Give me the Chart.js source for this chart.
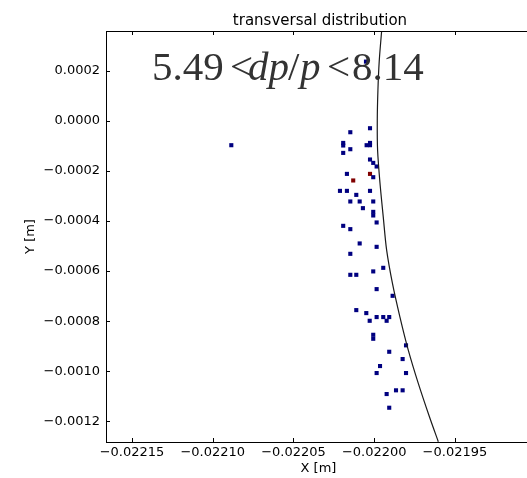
<!DOCTYPE html>
<html>
<head>
<meta charset="utf-8">
<script src="https://cdn.jsdelivr.net/npm/chart.js@4.4.1/dist/chart.umd.min.js"></script>
<style>
    body { margin: 0; background: #fff; }
    #wrap { width: 527px; height: 478px; overflow: hidden; }
</style>
</head>
<body>
<div id="wrap"><canvas id="dist-chart" width="540" height="478"></canvas></div>
<script>
// particles (navy = low, dark red = high)
const blueX = [-0.0220885, -0.0220051, -0.0220026, -0.0220148, -0.0220192, -0.0220192, -0.0220047, -0.0220026,
    -0.0220026, -0.0220148, -0.0220192, -0.0220026, -0.0220006, -0.0219985, -0.0220169, -0.0220006,
    -0.0220212, -0.0220169, -0.0220026, -0.0220111, -0.0220148, -0.0220090, -0.0220006, -0.0220070,
    -0.0220006, -0.0220006, -0.0219985, -0.0220192, -0.0220148, -0.0220090, -0.0219985, -0.0220148,
    -0.0219944, -0.0220006, -0.0220148, -0.0220111, -0.0219985, -0.0219886, -0.0220111, -0.0220049,
    -0.0219985, -0.0219944, -0.0219907, -0.0220028, -0.0219923, -0.0220006, -0.0220006, -0.0219803,
    -0.0219907, -0.0219824, -0.0219964, -0.0219985, -0.0219803, -0.0219865, -0.0219824, -0.0219923,
    -0.0219907];
const blueY = [-0.0000977, 0.0002360, -0.0000299, -0.0000459, -0.0000886, -0.0000989, -0.0000977, -0.0000886,
    -0.0000977, -0.0001137, -0.0001284, -0.0001548, -0.0001683, -0.0001827, -0.0002122, -0.0002254,
    -0.0002800, -0.0002800, -0.0002800, -0.0002960, -0.0003223, -0.0003223, -0.0003223, -0.0003490,
    -0.0003638, -0.0003782, -0.0004061, -0.0004196, -0.0004328, -0.0004899, -0.0005034, -0.0005313,
    -0.0005872, -0.0006015, -0.0006151, -0.0006151, -0.0006722, -0.0006989, -0.0007560, -0.0007679,
    -0.0007838, -0.0007838, -0.0007838, -0.0007986, -0.0007986, -0.0008545, -0.0008704, -0.0008967,
    -0.0009223, -0.0009514, -0.0009793, -0.0010072, -0.0010072, -0.0010762, -0.0010762, -0.0010910,
    -0.0011457];
const redX = [-0.0220026, -0.0220130];
const redY = [-0.0002122, -0.0002385];

// acceptance boundary
const curveX = [-0.0219954, -0.0219969, -0.0219977, -0.0219981, -0.0219979, -0.0219964, -0.0219944,
    -0.0219923, -0.0219887, -0.0219841, -0.0219789, -0.0219727, -0.0219658, -0.0219603];
const curveY = [0.000358, 0.000237, 0.000122, 0.0, -0.0001177, -0.0002505, -0.0003837,
    -0.0005166, -0.0006494, -0.0007826, -0.0009155, -0.0010483, -0.0011816, -0.0012813];

const xTicks = [-0.02215, -0.02210, -0.02205, -0.02200, -0.02195];
const yTicks = [0.0002, 0.0000, -0.0002, -0.0004, -0.0006, -0.0008, -0.0010, -0.0012];

const tickFont = { family: 'DejaVu Sans', size: 13 };

function fmt(v, digits) {
    const s = Math.abs(v).toFixed(digits);
    return (v < -1e-12 ? '\u2212' : '') + s;
}

// matplotlib style frame: top line plus inward ticks on all sides
const framePlugin = {
    id: 'frame',
    afterDraw(chart) {
        const ctx = chart.ctx;
        const a = chart.chartArea;
        const xs = chart.scales.x;
        const ys = chart.scales.y;
        ctx.save();
        ctx.strokeStyle = '#000';
        ctx.lineWidth = 1;
        ctx.beginPath();
        ctx.moveTo(a.left, a.top + 0.5);
        ctx.lineTo(a.right, a.top + 0.5);
        xTicks.forEach(v => {
            const px = Math.round(xs.getPixelForValue(v)) + 0.5;
            ctx.moveTo(px, a.bottom);
            ctx.lineTo(px, a.bottom - 4);
            ctx.moveTo(px, a.top);
            ctx.lineTo(px, a.top + 4);
        });
        yTicks.forEach(v => {
            const py = Math.round(ys.getPixelForValue(v)) + 0.5;
            ctx.moveTo(a.left, py);
            ctx.lineTo(a.left + 4, py);
            ctx.moveTo(a.right, py);
            ctx.lineTo(a.right - 4, py);
        });
        ctx.stroke();

        // title
        ctx.fillStyle = '#000';
        ctx.font = '15px "DejaVu Sans"';
        ctx.textAlign = 'center';
        ctx.textBaseline = 'alphabetic';
        ctx.fillText('transversal distribution', 320, 25);

        // mathtext label
        const parts = [
            ['5.49', 'normal', 152],
            ['<', 'normal', 230],
            ['dp', 'italic', 248],
            ['/', 'normal', 288],
            ['p', 'italic', 300],
            ['<', 'normal', 327],
            ['8.14', 'normal', 352]
        ];
        ctx.fillStyle = '#333';
        ctx.textAlign = 'left';
        parts.forEach(p => {
            ctx.font = p[1] + ' 41px "Liberation Serif"';
            ctx.fillText(p[0], p[2], 80);
        });
        ctx.restore();
    }
};

const ctx = document.getElementById('dist-chart').getContext('2d');
const chart = new Chart(ctx, {
    type: 'scatter',
    data: {
        datasets: [
            {
                label: 'boundary',
                data: curveX.map((x, i) => ({ x: x, y: curveY[i] })),
                showLine: true,
                borderColor: '#1a1a1a',
                borderWidth: 1.2,
                pointRadius: 0,
                tension: 0.3
            },
            {
                label: 'low',
                data: blueX.map((x, i) => ({ x: x, y: blueY[i] })),
                pointStyle: 'rect',
                pointRadius: 2.9,
                backgroundColor: '#000080',
                borderWidth: 0
            },
            {
                label: 'high',
                data: redX.map((x, i) => ({ x: x, y: redY[i] })),
                pointStyle: 'rect',
                pointRadius: 2.9,
                backgroundColor: '#800000',
                borderWidth: 0
            }
        ]
    },
    options: {
        responsive: false,
        animation: false,
        layout: { padding: { top: 31, right: 9, left: 0, bottom: 0 } },
        plugins: {
            legend: { display: false },
            tooltip: { enabled: false },
            title: { display: false }
        },
        scales: {
            x: {
                type: 'linear',
                min: -0.0221661,
                max: -0.0219029,
                afterBuildTicks: scale => { scale.ticks = xTicks.map(v => ({ value: v })); },
                afterFit: scale => { scale.height = 36; },
                grid: { display: true, drawOnChartArea: false, drawTicks: false },
                border: { display: true, color: '#000', width: 1 },
                ticks: {
                    color: '#000',
                    font: tickFont,
                    padding: 3,
                    maxRotation: 0,
                    callback: v => fmt(v, 5)
                },
                title: {
                    display: true,
                    text: 'X [m]',
                    color: '#000',
                    font: tickFont,
                    padding: { top: 0, bottom: 2 }
                }
            },
            y: {
                type: 'linear',
                min: -0.0012825,
                max: 0.0003582,
                afterBuildTicks: scale => { scale.ticks = yTicks.map(v => ({ value: v })); },
                afterFit: scale => { scale.width = 106; },
                grid: { display: true, drawOnChartArea: false, drawTicks: false },
                border: { display: true, color: '#000', width: 1 },
                ticks: {
                    color: '#000',
                    font: tickFont,
                    padding: 6,
                    callback: v => fmt(v, 4)
                },
                title: {
                    display: true,
                    text: 'Y [m]',
                    color: '#000',
                    font: tickFont,
                    padding: { top: 23, bottom: 0 }
                }
            }
        }
    },
    plugins: [framePlugin]
});
</script>
</body>
</html>
